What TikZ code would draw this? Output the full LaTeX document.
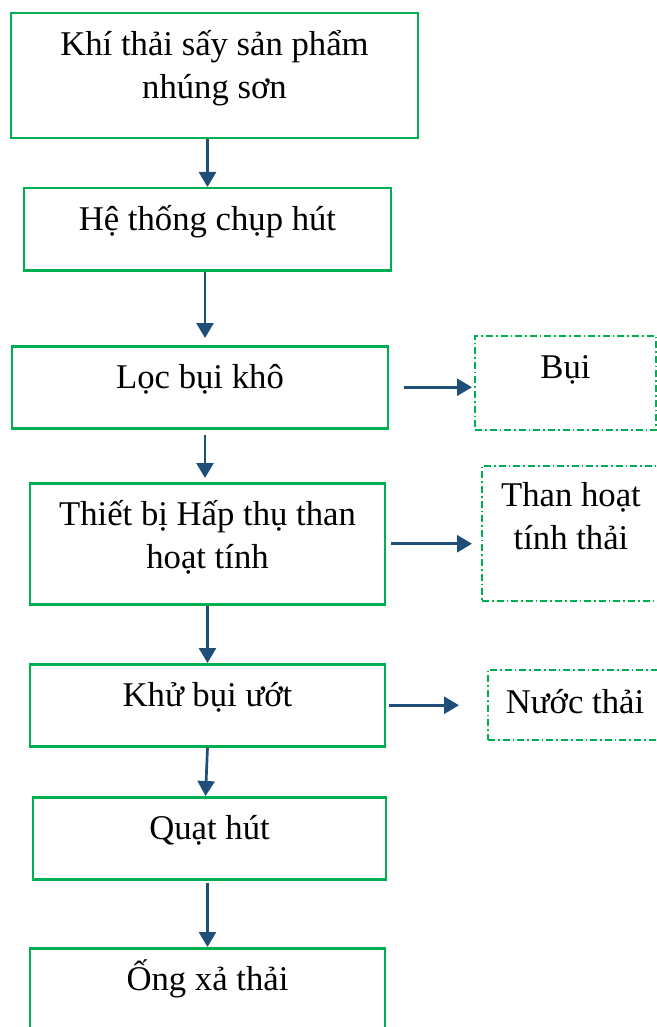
\documentclass[tikz,border=0pt]{standalone}
\usepackage{fontspec}
\setmainfont{Liberation Serif}
\usetikzlibrary{positioning, calc, arrows.meta}

\definecolor{boxgreen}{HTML}{00B050}
\definecolor{arrowblue}{HTML}{1F4E79}

\begin{document}
\begin{tikzpicture}[
        x=0.5pt, y=-0.5pt,
        block/.style={
            rectangle,
            draw=boxgreen,
            line width=1.25pt,
            inner sep=0pt,
            align=flush center,
            text height=21pt,
            font=\fontsize{17.35pt}{21.7pt}\selectfont
        },
        waste/.style={
            block,
            line width=1pt,
            dash pattern=on 3.5pt off 1.5pt on 0.8pt off 1.5pt
        },
        flow/.style={
            draw=arrowblue,
            line width=1.35pt,
            -{Triangle[width=8.5pt,length=7.5pt]}
        }
    ]

        \useasboundingbox (0, 0) rectangle (657, 1027);

        % Main line
        \node[block, text width=203.5pt, text depth=41.5pt, anchor=north] (khi) at (214.5, 12) {Khí thải sấy sản phẩm\\nhúng sơn};
        \node[block, text width=183.5pt, text depth=20pt, anchor=north] (he) at (207.5, 187) {Hệ thống chụp hút};
        \node[block, text width=188pt, text depth=20pt, anchor=north] (loc) at (200, 345) {Lọc bụi khô};
        \node[block, text width=177.5pt, text depth=39.5pt, anchor=north] (tb) at (207.5, 482) {Thiết bị Hấp thụ than\\hoạt tính};
        \node[block, text width=177.5pt, text depth=20pt, anchor=north] (khu) at (207.5, 663) {Khử bụi ướt};
        \node[block, text width=176.5pt, text depth=20pt, anchor=north] (quat) at (209.5, 796) {Quạt hút};
        \node[block, text width=177.5pt, text depth=22.5pt, anchor=north] (ong) at (207.5, 947) {Ống xả thải};

        % Waste outputs
        \node[waste, text width=90.5pt, text depth=26pt, anchor=north] (bui) at (565.5, 335) {Bụi};
        \node[waste, text width=89pt, text height=20pt, text depth=47.5pt, anchor=north] (than) at (571, 465) {Than hoạt\\tính thải};
        \node[waste, text width=87pt, text height=21.5pt, text depth=13.5pt, anchor=north] (nuoc) at (575, 669) {Nước thải};

        % Down arrows
        \draw[flow] (khi.south -| he.north) -- (he.north);
        \draw[flow, shorten >=3.5pt] ([xshift=-1.25pt]he.south) -- ([xshift=-1.25pt]he.south |- loc.north);
        \draw[flow, shorten <=2.5pt, shorten >=2pt] ([xshift=2.5pt]loc.south) -- ([xshift=2.5pt]loc.south |- tb.north);
        \draw[flow] (tb.south) -- (khu.north);
        \draw[flow] (khu.south) -- ([xshift=-2pt]quat.north);
        \draw[flow, shorten <=1pt] (quat.south -| ong.north) -- (ong.north);

        % Side arrows
        \draw[flow, shorten <=7.5pt, shorten >=1pt] (loc.east) -- (loc.east -| bui.west);
        \draw[flow, shorten <=2.5pt, shorten >=4.5pt] (tb.east) -- (tb.east -| than.west);
        \draw[flow, shorten <=1.5pt, shorten >=14pt] (khu.east) -- (khu.east -| nuoc.west);

\end{tikzpicture}
\end{document}
